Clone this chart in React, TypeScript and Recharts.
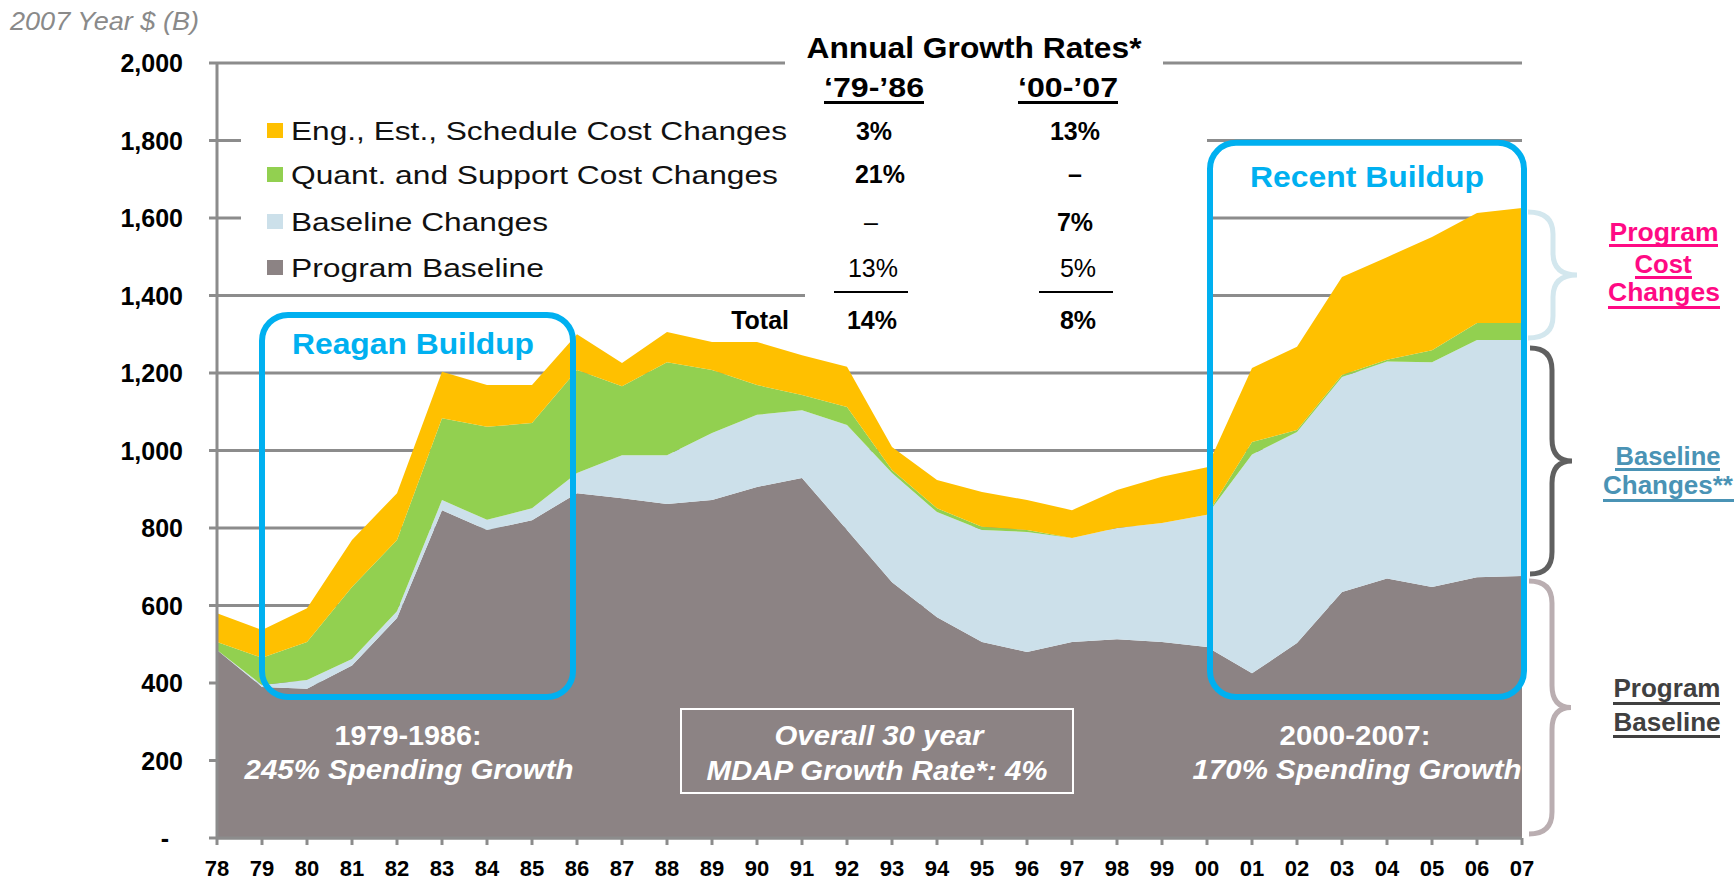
import React from 'react';
import { AreaChart, Area, XAxis, YAxis, CartesianGrid } from 'recharts';

// ---------- data (2007 Year $ B, stacked segments) ----------
const years = ['78','79','80','81','82','83','84','85','86','87','88','89','90','91','92','93','94','95','96','97','98','99','00','01','02','03','04','05','06','07'];
const programBaseline = [485,390,385,445,568,846,795,820,890,877,862,872,906,929,795,660,570,506,480,506,513,506,493,425,503,635,670,648,673,676];
const baselineChanges = [0,5,23,17,17,26,26,31,52,111,126,173,186,175,271,282,271,289,310,268,287,307,341,565,545,555,560,580,612,609];
const quantSupportChanges = [21,70,98,186,184,211,240,220,266,178,240,163,77,39,46,8,10,8,5,0,0,0,0,32,5,5,4,31,44,44];
const engEstScheduleChanges = [74,72,87,121,121,120,108,98,92,60,78,72,111,103,104,59,73,90,77,72,98,119,123,191,215,253,265,292,284,297];
const yTicks = [0,200,400,600,800,1000,1200,1400,1600,1800,2000];

const seriesNames = ['Eng., Est., Schedule Cost Changes','Quant. and Support Cost Changes','Baseline Changes','Program Baseline'];
const growth7986 = ['3%','21%','–','13%'];
const growth0007 = ['13%','–','7%','5%'];
const totals = ['14%','8%'];

const rows = years.map((y, i) => ({
  year: y,
  base: programBaseline[i],
  blchg: baselineChanges[i],
  quant: quantSupportChanges[i],
  eng: engEstScheduleChanges[i],
}));

// ---------- layout ----------
const W = 1734, H = 881;
const M = { top: 63, right: 212, bottom: 3, left: 137 };
const YAXIS_W = 80, XAXIS_H = 40;
const PL = M.left + YAXIS_W;
const PT = M.top;
const PW = W - PL - M.right;
const PH = H - PT - M.bottom - XAXIS_H;
const YMAX = 2000;
const xOf = (i: number) => PL + (PW * i) / (years.length - 1);
const yOf = (v: number) => PT + PH - (v / YMAX) * PH;

const FONT = '"Liberation Sans", Arial, Helvetica, sans-serif';
const C_Y = '#FFC000', C_G = '#92D050', C_B = '#CCE0EA', C_P = '#8C8384';
const C_BOX = '#00B0F0';
const GRID = '#8c8c8c';

const YTick = (p: any) => {
  const v = p.payload.value;
  return (
    <text x={v === 0 ? p.x - 14 : p.x} y={p.y} dy={9} textAnchor="end" fontFamily={FONT} fontWeight={700} fontSize={25} fill="#000">
      {v === 0 ? '-' : v.toLocaleString('en-US')}
    </text>
  );
};
const XTick = (p: any) => (
  <text x={p.x} y={p.y} dy={13} textAnchor="middle" fontFamily={FONT} fontWeight={700} fontSize={22} fill="#000">
    {p.payload.value}
  </text>
);

const T = (p: any) => (
  <text x={p.x} y={p.y} fontFamily={FONT} fontSize={p.size || 25} fontWeight={p.bold ? 700 : 400}
    fontStyle={p.italic ? 'italic' : 'normal'} fill={p.fill || '#000'} textAnchor={p.anchor || 'middle'}
    textLength={p.len} lengthAdjust={p.len ? 'spacingAndGlyphs' : undefined}>
    {p.children}
  </text>
);

const brace = (x0: number, x1: number, xt: number, yt: number, yb: number, r: number) => {
  const ym = (yt + yb) / 2;
  return `M ${x0} ${yt} Q ${x1} ${yt} ${x1} ${yt + r} L ${x1} ${ym - r} Q ${x1} ${ym} ${xt} ${ym} Q ${x1} ${ym} ${x1} ${ym + r} L ${x1} ${yb - r} Q ${x1} ${yb} ${x0} ${yb}`;
};

export default function App() {
  const last = years.length - 1;
  const top07 = programBaseline[last] + baselineChanges[last] + quantSupportChanges[last] + engEstScheduleChanges[last];
  const blTop07 = programBaseline[last] + baselineChanges[last];
  const base07 = programBaseline[last];

  const legendColors = [C_Y, C_G, C_B, C_P];
  const rowBase = [140, 184, 231, 277];

  return (
    <div style={{ position: 'absolute', left: 0, top: 0, width: W, height: H, background: '#fff', overflow: 'hidden' }}>
      <AreaChart width={W} height={H} data={rows} margin={M}>
        <CartesianGrid vertical={false} stroke={GRID} strokeWidth={3} />
        <XAxis dataKey="year" interval={0} height={XAXIS_H} tickSize={7} tickMargin={18}
          axisLine={{ stroke: GRID, strokeWidth: 3 }} tickLine={{ stroke: GRID, strokeWidth: 3 }} tick={<XTick />} />
        <YAxis domain={[0, YMAX]} ticks={yTicks} width={YAXIS_W} tickSize={8} tickMargin={26} interval={0}
          axisLine={{ stroke: GRID, strokeWidth: 3 }} tickLine={{ stroke: GRID, strokeWidth: 3 }} tick={<YTick />} />
        <Area type="linear" dataKey="base" stackId="s" stroke="none" fill={C_P} fillOpacity={1} isAnimationActive={false} dot={false} activeDot={false} />
        <Area type="linear" dataKey="blchg" stackId="s" stroke="none" fill={C_B} fillOpacity={1} isAnimationActive={false} dot={false} activeDot={false} />
        <Area type="linear" dataKey="quant" stackId="s" stroke="none" fill={C_G} fillOpacity={1} isAnimationActive={false} dot={false} activeDot={false} />
        <Area type="linear" dataKey="eng" stackId="s" stroke="none" fill={C_Y} fillOpacity={1} isAnimationActive={false} dot={false} activeDot={false} />
      </AreaChart>

      <svg width={W} height={H} style={{ position: 'absolute', left: 0, top: 0, pointerEvents: 'none' }}>
        {/* white panels hiding gridlines behind legend / table / title */}
        <rect x={241} y={92} width={564} height={197} fill="#fff" />
        <rect x={805} y={78} width={402} height={267} fill="#fff" />
        <rect x={785} y={40} width={378} height={40} fill="#fff" />

        {/* axis unit label */}
        <T x={10} y={30} size={25} italic fill="#8a8a8a" anchor="start" len={189}>2007 Year $ (B)</T>

        {/* legend */}
        {seriesNames.map((n, i) => (
          <g key={n}>
            <rect x={267} y={rowBase[i] - 17} width={16} height={15} fill={legendColors[i]} />
            <T x={291} y={rowBase[i]} size={26} anchor="start" fill="#111" len={[496, 487, 257, 253][i]}>{n}</T>
          </g>
        ))}

        {/* growth table */}
        <T x={974} y={58} size={30} bold len={335}>Annual Growth Rates*</T>
        <T x={874} y={97} size={28} bold len={100}>‘79-’86</T>
        <T x={1068} y={97} size={28} bold len={100}>‘00-’07</T>
        <rect x={824} y={101} width={100} height={3} fill="#000" />
        <rect x={1018} y={101} width={100} height={3} fill="#000" />
        {growth7986.map((g, i) => (
          <T key={'a' + i} x={[874, 880, 871, 873][i]} y={rowBase[i] - (i === 1 ? 1 : 0)} size={25} bold={i < 2}>{g}</T>
        ))}
        {growth0007.map((g, i) => (
          <T key={'b' + i} x={[1075, 1075, 1075, 1078][i]} y={rowBase[i] - (i === 1 ? 1 : 0)} size={25} bold={i < 3}>{g}</T>
        ))}
        <rect x={834} y={291} width={74} height={2} fill="#000" />
        <rect x={1039} y={291} width={74} height={2} fill="#000" />
        <T x={789} y={329} size={25} bold anchor="end">Total</T>
        <T x={872} y={329} size={25} bold>{totals[0]}</T>
        <T x={1078} y={329} size={25} bold>{totals[1]}</T>

        {/* buildup boxes */}
        <rect x={xOf(1)} y={yOf(1350)} width={xOf(8) - xOf(1) - 4} height={yOf(364) - yOf(1350)} rx={26} ry={26} fill="none" stroke={C_BOX} strokeWidth={6} />
        <T x={413} y={354} size={29} bold fill={C_BOX} len={242}>Reagan Buildup</T>
        <rect x={xOf(22) + 3} y={yOf(1794)} width={xOf(29) - xOf(22) - 1} height={yOf(364) - yOf(1794)} rx={26} ry={26} fill="none" stroke={C_BOX} strokeWidth={6} />
        <T x={1367} y={187} size={29} bold fill={C_BOX} len={234}>Recent Buildup</T>

        {/* in-plot annotations */}
        <T x={408} y={745} size={27} bold fill="#fff" len={147}>1979-1986:</T>
        <T x={409} y={779} size={27} bold italic fill="#fff" len={329}>245% Spending Growth</T>
        <T x={1355} y={745} size={27} bold fill="#fff" len={151}>2000-2007:</T>
        <T x={1357} y={779} size={27} bold italic fill="#fff" len={329}>170% Spending Growth</T>
        <rect x={681} y={709} width={392} height={84} fill="none" stroke="#fff" strokeWidth={2} />
        <T x={879} y={745} size={27} bold italic fill="#fff" len={209}>Overall 30 year</T>
        <T x={877} y={780} size={27} bold italic fill="#fff" len={341}>MDAP Growth Rate*: 4%</T>

        {/* braces */}
        <path d={brace(1528, 1553, 1577, yOf(top07) + 4, yOf(blTop07) - 2, 22)} fill="none" stroke="#D3E7EE" strokeWidth={5} />
        <path d={brace(1530, 1552, 1572, yOf(blTop07) + 8, yOf(base07) - 2, 22)} fill="none" stroke="#606060" strokeWidth={5} />
        <path d={brace(1529, 1552, 1571, yOf(base07) + 5, yOf(0) - 4, 22)} fill="none" stroke="#BAAEB1" strokeWidth={5} />

        {/* right-side labels */}
        <T x={1664} y={241} size={25} bold fill="#FF0A84" len={109}>Program</T>
        <rect x={1609} y={244} width={109} height={3} fill="#FF0A84" />
        <T x={1663} y={273} size={25} bold fill="#FF0A84" len={57}>Cost</T>
        <rect x={1635} y={276} width={57} height={3} fill="#FF0A84" />
        <T x={1664} y={301} size={25} bold fill="#FF0A84" len={112}>Changes</T>
        <rect x={1608} y={306} width={112} height={3} fill="#FF0A84" />

        <T x={1668} y={465} size={25} bold fill="#4A93B5" len={105}>Baseline</T>
        <rect x={1615} y={468} width={105} height={3} fill="#4A93B5" />
        <T x={1603} y={494} size={25} bold fill="#4A93B5" anchor="start" len={130}>Changes**</T>
        <rect x={1603} y={499} width={131} height={3} fill="#4A93B5" />

        <T x={1667} y={697} size={25} bold fill="#404040" len={107}>Program</T>
        <rect x={1613} y={702} width={107} height={3} fill="#404040" />
        <T x={1667} y={731} size={25} bold fill="#404040" len={107}>Baseline</T>
        <rect x={1613} y={735} width={107} height={3} fill="#404040" />
      </svg>
    </div>
  );
}
